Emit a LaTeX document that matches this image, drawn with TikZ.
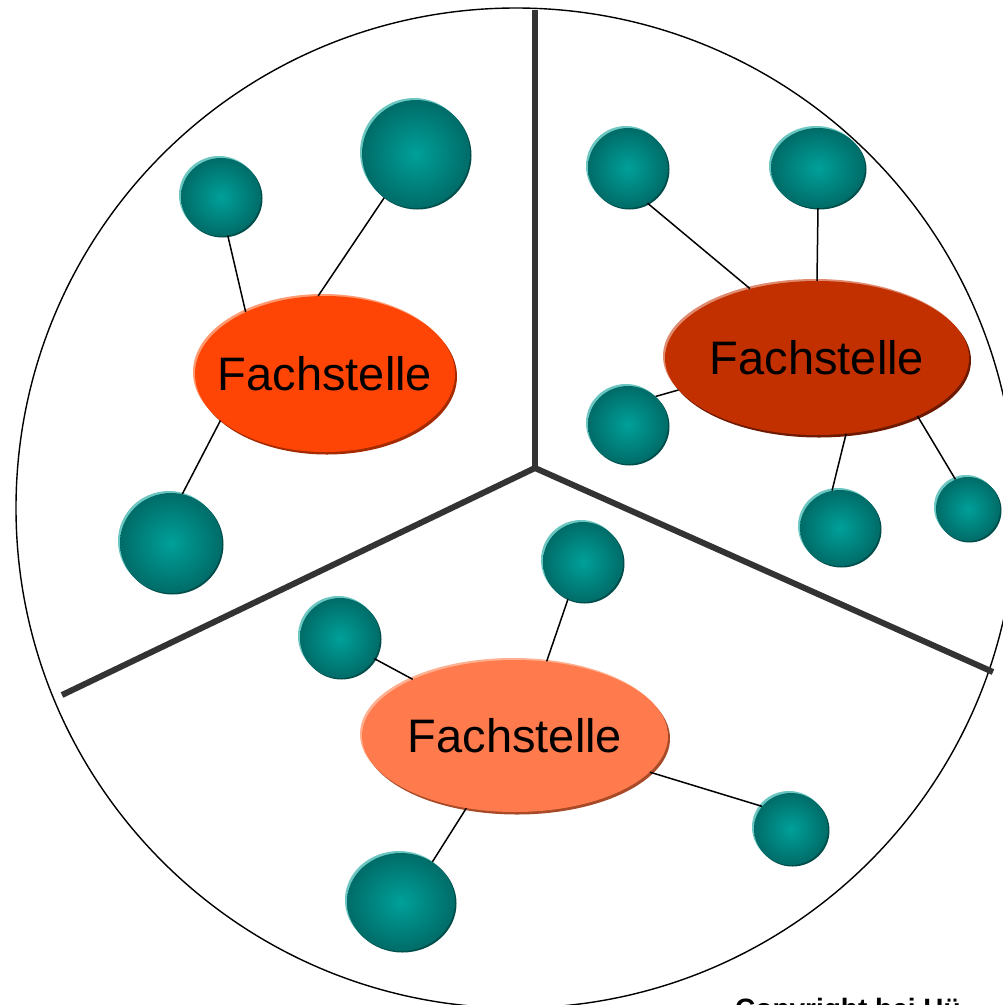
\documentclass[tikz,border=0pt]{standalone}
\usepackage{fontspec}
\setmainfont{Liberation Sans}
\usetikzlibrary{shapes.geometric}
\definecolor{tealin}{HTML}{00A09A}
\definecolor{tealout}{HTML}{006C68}
\definecolor{teallight}{HTML}{6CC6C1}
\definecolor{tealdark}{HTML}{004E4B}
\definecolor{fachA}{HTML}{FF4506}
\definecolor{fachAd}{HTML}{A52A00}
\definecolor{fachAl}{HTML}{FF9A70}
\definecolor{fachB}{HTML}{C23000}
\definecolor{fachBd}{HTML}{6E1A00}
\definecolor{fachBl}{HTML}{E08A70}
\definecolor{fachC}{HTML}{FF7A4C}
\definecolor{fachCd}{HTML}{A84A28}
\definecolor{fachCl}{HTML}{FFB090}
\definecolor{divcol}{HTML}{333333}
\tikzset{
  ballnode/.style={ellipse, inner sep=0pt, shading=radial, inner color=tealin, outer color=tealout},
  fachnode/.style={ellipse, inner sep=0pt},
  fachtext/.style={inner sep=0pt, font=\fontsize{47}{56}\selectfont, text=black},
  divider/.style={line width=6pt, draw=divcol},
  conn/.style={line width=1.5pt, draw=black}
}
% name, x, y, rx, ry
\newcommand\myball[5]{%
  \fill[teallight] (#2-2,#3-2) ellipse [x radius=#4, y radius=#5];
  \fill[tealdark] (#2+1.5,#3+1.5) ellipse [x radius=#4, y radius=#5];
  \node[ballnode, minimum width=2*#4, minimum height=2*#5] (#1) at (#2,#3) {};
}
% name, x, y, rx, ry, fill, dark, light
\newcommand\myfach[8]{%
  \fill[#8] (#2-2,#3-2) ellipse [x radius=#4, y radius=#5];
  \fill[#7] (#2+2,#3+2.5) ellipse [x radius=#4, y radius=#5];
  \node[fachnode, fill=#6, minimum width=2*#4, minimum height=2*#5] (#1) at (#2,#3) {};
  \node[fachtext] (#1t) at (#2,#3) {Fachstelle};
}
\begin{document}
\begin{tikzpicture}[x=1pt,y=-1pt]
\useasboundingbox[fill=white] (0,0) rectangle (1003,1005);
% outer circle
\draw[line width=1.4pt] (516,508) circle [radius=500];
% dividers
\coordinate (hub) at (535,468);
\coordinate (dtop) at (535,10);
\coordinate (dleft) at (62,695);
\coordinate (dright) at (993,672);
\draw[divider] (hub) -- (dtop);
\draw[divider] (hub) -- (dleft);
\draw[divider] (hub) -- (dright);
% connectors (drawn first, hidden under nodes at ends)
% Fachstellen
\myfach{FA}{325}{374}{130}{78}{fachA}{fachAd}{fachAl}
\myfach{FB}{817}{358}{152}{77}{fachB}{fachBd}{fachBl}
\myfach{FC}{515}{736}{153}{76}{fachC}{fachCd}{fachCl}
% balls
\myball{A1}{221}{197}{40}{39}
\myball{A2}{416}{154}{54}{54}
\myball{A3}{171}{543}{51}{50}
\myball{B1}{628}{168}{40}{40}
\myball{B2}{818}{168}{47}{40}
\myball{B3}{628}{425}{40}{39}
\myball{B4}{840}{528}{40}{38}
\myball{B5}{968}{509}{32}{32}
\myball{C1}{583}{562}{40}{40}
\myball{C2}{340}{638}{40}{40}
\myball{C3}{791}{829}{37}{36}
\myball{C4}{401}{902}{54}{49}
% connectors
\draw[conn] (A1.280) -- (FA.142);
\draw[conn] (A2.234) -- (FA.95);
\draw[conn] (A3.77) -- (FA.204);
\draw[conn] (B1.299) -- (FB.134);
\draw[conn] (B2.270) -- (FB.90);
\draw[conn] (B3.46) -- (FB.193);
\draw[conn] (B4.102) -- (FB.291);
\draw[conn] (B5.113) -- (FB.330);
\draw[conn] (C1.248) -- (FC.67);
\draw[conn] (C2.329) -- (FC.151);
\draw[conn] (C3.142) -- (FC.345);
\draw[conn] (C4.52) -- (FC.236);
% cut-off caption
\node[anchor=base west, inner sep=0pt, font=\bfseries\fontsize{28}{32}\selectfont] (cap) at (735,1018) {Copyright bei Hü};
\end{tikzpicture}
\end{document}
